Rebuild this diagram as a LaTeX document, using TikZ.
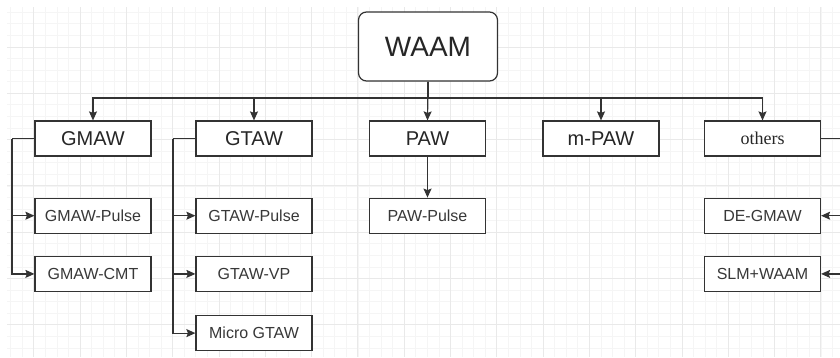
\documentclass[tikz,border=0pt]{standalone}
\usepackage{fontspec}
\setmainfont{Liberation Sans}
\newfontfamily\timesfont{Liberation Serif}
\usetikzlibrary{arrows.meta,positioning}
\definecolor{lineGray}{HTML}{333333}
\definecolor{gridMajor}{HTML}{E9E9E9}
\definecolor{gridMinor}{HTML}{F5F5F5}

\begin{document}
\begin{tikzpicture}[
    x=1pt,y=-1pt,
    >={Stealth[length=9pt,width=8pt,inset=1.5pt]},
    root/.style ={rectangle,rounded corners=8pt,draw=lineGray,line width=1.2pt,fill=white,
                  minimum width=139pt,minimum height=69pt,inner sep=0pt,
                  font=\fontsize{28}{32}\selectfont,text=black!85},
    proc/.style ={rectangle,draw=lineGray,line width=1.2pt,fill=white,
                  minimum width=116pt,minimum height=35pt,inner sep=0pt,
                  font=\fontsize{20}{24}\selectfont,text=black!85},
    sub/.style  ={proc,font=\fontsize{16}{19}\selectfont,text=black!78},
    arr/.style={->,line width=1.2pt,lineGray},
    link/.style={line width=1.2pt,lineGray}
  ]
  \clip (0,0) rectangle (840,357);
  \fill[white] (0,0) rectangle (840,357);
  % background grid
  \foreach \i in {0,...,71} \draw[gridMinor,line width=0.8pt] ({10.65+11.575*\i},7) -- (10.65+11.575*\i,357);
  \foreach \i in {1,...,30} \draw[gridMinor,line width=0.8pt] (7,{0.7+11.575*\i}) -- (840,0.7+11.575*\i);
  \foreach \i in {0,...,17} \draw[gridMajor,line width=0.9pt] ({33.8+46.3*\i},7) -- (33.8+46.3*\i,357);
  \foreach \i in {0,...,6} \draw[gridMajor,line width=0.9pt] (7,{47+46.3*\i}) -- (840,47+46.3*\i);

  \node[root] (waam) at (428,46.5) {WAAM};
  \node[proc] (gmaw)   at (93,138.5)    {GMAW};
  \node[proc] (gtaw)   at (254,138.5)   {GTAW};
  \node[proc] (paw)    at (427.5,138.5) {PAW};
  \node[proc] (mpaw)   at (601,138.5)   {m-PAW};
  \node[proc,font=\timesfont\fontsize{18}{22}\selectfont] (others) at (762.5,138.5) {others};

  \node[sub,below=41pt of gmaw]   (gmawp)  {GMAW-Pulse};
  \node[sub,below=22pt of gmawp]  (gmawc)  {GMAW-CMT};
  \node[sub,below=41pt of gtaw]   (gtawp)  {GTAW-Pulse};
  \node[sub,below=22pt of gtawp]  (gtawv)  {GTAW-VP};
  \node[sub,below=23pt of gtawv]  (gtawm)  {Micro GTAW};
  \node[sub,below=41pt of paw]    (pawp)   {PAW-Pulse};
  \node[sub,below=41pt of others] (degmaw) {DE-GMAW};
  \node[sub,below=22pt of degmaw] (slm)    {SLM+WAAM};

  \coordinate (bus) at (428,98);
  \draw[link] (waam.south) -- (bus);
  \foreach \n in {gmaw,gtaw,mpaw,others} \draw[arr] (bus) -| (\n.north);
  \draw[arr] (waam.south) -- (paw.north);
  \draw[arr] (paw.south) -- (pawp.north);

  \coordinate (gmawrail) at (12,138.5);
  \coordinate (gtawrail) at (173,138.5);
  \coordinate (othersrail) at (843,138.5);
  \draw[link] (gmaw.west) -- (gmawrail);
  \draw[link] (gtaw.west) -- (gtawrail);
  \draw[link] (others.east) -- (othersrail);
  \foreach \n in {gmawp,gmawc} \draw[arr] (gmawrail) |- (\n.west);
  \foreach \n in {gtawp,gtawv,gtawm} \draw[arr] (gtawrail) |- (\n.west);
  \foreach \n in {degmaw,slm} \draw[arr] (othersrail) |- (\n.east);
\end{tikzpicture}
\end{document}
